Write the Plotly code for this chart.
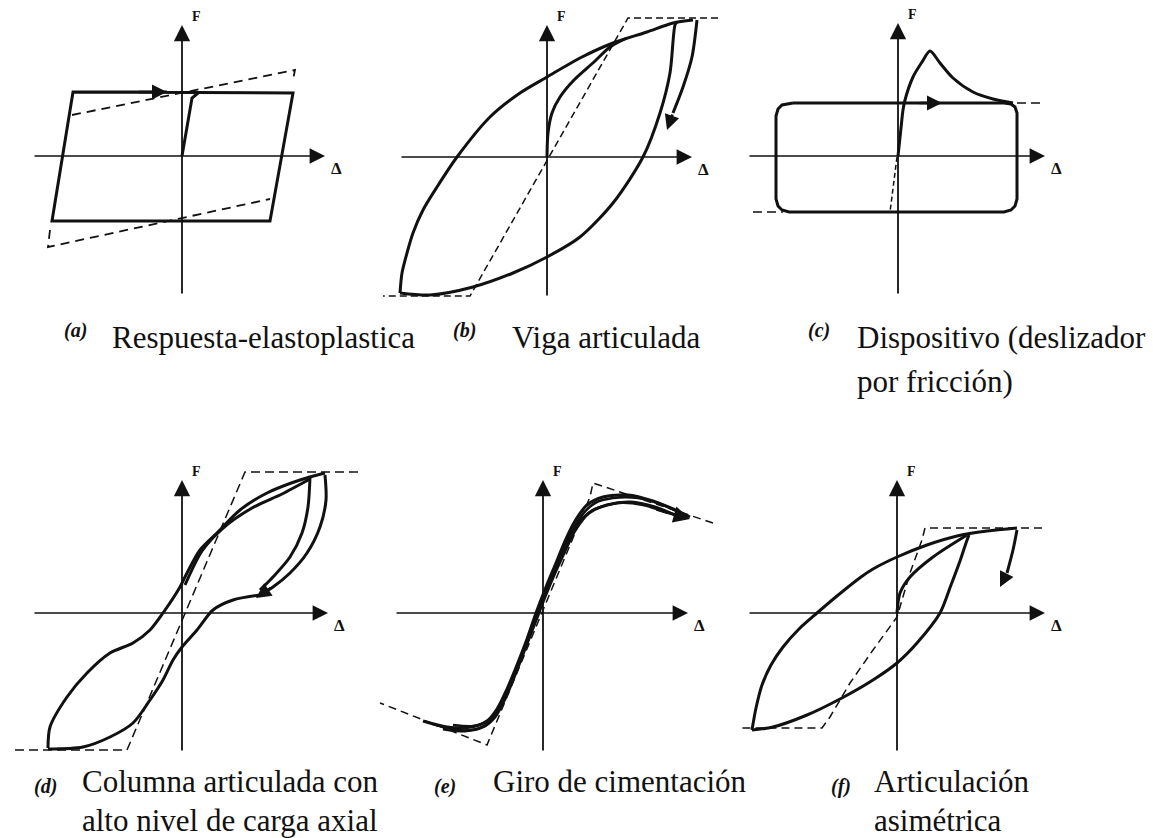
import plotly.graph_objects as go

W, H = 1153, 838

# Axis crossing point of each panel, in page pixels
ORIGINS = {"a": (182, 156), "b": (547, 157), "c": (898, 156),
           "d": (182, 613), "e": (543, 613), "f": (897, 613)}
PANELS = ["a", "b", "c", "d", "e", "f"]

# ---- (a) elastoplastic response: displacement (d) and force (f) ----
a_loop_d = [-109, 111, 88, -130, -109, -15]
a_loop_f = [64, 63, -65, -65, 64, 64]
a_init_d = [0, 10, 16]
a_init_f = [0, 58, 63]
a_env_up_d = [-110, 113, 111]
a_env_up_f = [41, 86, 76]
a_env_lo_d = [-132, -134, 88]
a_env_lo_f = [-74, -91, -43]

# ---- (b) hinged beam ----
b_up_d = [-147, -145, -140, -134, -124, -110, -90, -57, -27, 0, 33, 66, 100, 126, 146]
b_up_f = [-136, -116, -96, -76, -53, -30, 0, 40, 64, 80, 99, 114, 125, 134, 137]
b_lo_d = [-147, -117, -74, -34, 0, 33, 66, 96, 113, 123, 128, 130]
b_lo_f = [-136, -138, -130, -116, -100, -80, -46, 0, 44, 84, 132, 135]
b_init_d = [0, 1, 5, 13, 27, 47, 63, 80]
b_init_f = [0, 24, 44, 60, 77, 95, 110, 119]
b_unl_d = [150, 145, 136, 126, 120]
b_unl_f = [137, 100, 70, 44, 27]
b_env_d = [171, 81, -77, -164]
b_env_f = [139, 139, -139, -139]

# ---- (c) friction slider ----
c_rect_d = [-105, 106, 113, 117, 119, 119, 117, 113, 106, -109, -116, -120, -122, -122, -120, -116, -105]
c_rect_f = [53, 53, 52, 49, 43, -43, -50, -54, -56, -56, -54, -50, -43, 40, 47, 51, 53]
c_peak_d = [0, 3, 5, 7, 15, 24, 32, 42, 55, 75, 95, 115]
c_peak_f = [0, 28, 46, 56, 79, 94, 105, 93, 78, 64, 57, 53]
c_env_r_d = [119, 147]
c_env_r_f = [53, 53]
c_env_l_d = [-145, -115]
c_env_l_f = [-56, -56]
c_elast_d = [-1, -8]
c_elast_f = [-1, -56]

# ---- (d) hinged column, high axial load ----
d_up_d = [-134, -132, -115, -95, -72, -49, -32, -19, -2, 5, 18, 35, 58, 85, 118, 143]
d_up_f = [-135, -114, -84, -60, -40, -30, -17, 0, 26, 40, 63, 80, 103, 120, 133, 140]
d_in_d = [3, 20, 40, 70, 100, 128]
d_in_f = [28, 62, 84, 105, 119, 134]
d_unl1_d = [143, 144, 138, 125, 108, 91, 78]
d_unl1_f = [138, 113, 86, 60, 40, 26, 18]
d_unl2_d = [128, 126, 120, 108, 91, 78]
d_unl2_f = [136, 106, 80, 56, 36, 23]
d_lo_d = [78, 51, 31, 15, 0, -9, -19, -32, -49, -72, -99, -134]
d_lo_f = [18, 13, 3, -17, -34, -47, -67, -87, -110, -124, -134, -136]
d_env_d = [176, 63, -55, -172]
d_env_f = [141, 141, -137, -137]

# ---- (e) foundation rocking ----
e_c1_d = [-120, -96, -72, -56, -46, -36, -26, -16, -7, 3, 13, 22, 32, 44, 60, 85, 110, 130, 147]
e_c1_f = [-108, -114, -114, -108, -96, -76, -52, -26, 0, 26, 50, 72, 92, 108, 116, 118, 112, 104, 96]
e_c2_d = [-100, -78, -60, -48, -38, -28, -18, -8, 2, 12, 22, 33, 46, 64, 88, 112, 132]
e_c2_f = [-116, -118, -114, -104, -86, -62, -36, -10, 16, 40, 62, 84, 100, 108, 111, 106, 98]
e_c3_d = [-90, -70, -55, -44, -34, -24, -14, -4, 6, 16, 26, 37, 52, 75, 100, 125]
e_c3_f = [-112, -113, -108, -96, -76, -50, -24, 2, 28, 52, 74, 92, 104, 110, 108, 100]
e_c4_d = [-110, -86, -66, -52, -42, -32, -22, -12, -2, 8, 18, 28, 39, 52, 70, 95, 120, 140]
e_c4_f = [-111, -117, -116, -108, -92, -70, -45, -18, 8, 34, 58, 80, 98, 110, 115, 115, 108, 99]
e_env_d = [170, 50, 47, -53, -56, -163]
e_env_f = [90, 130, 116, -124, -132, -90]

# ---- (f) asymmetric hinge ----
f_up_d = [-145, -141, -135, -126, -114, -98, -80, -60, -36, -24, 0, 30, 60, 90, 120]
f_up_f = [-117, -95, -72, -52, -34, -16, 0, 17, 36, 44, 56, 68, 77, 82, 85]
f_lo_d = [-145, -124, -90, -57, -24, 0, 20, 43, 54, 63, 69, 72]
f_lo_f = [-117, -114, -102, -86, -67, -50, -30, 0, 28, 52, 70, 78]
f_init_d = [0, 3, 13, 36, 70]
f_init_f = [0, 20, 36, 56, 78]
f_unl_d = [120, 116, 110, 103]
f_unl_f = [83, 63, 40, 26]
f_env_d = [145, 28, 25, 13, 0, -24, -47, -67, -75, -157]
f_env_f = [85, 85, 73, 40, -4, -37, -70, -104, -115, -115]

# Coordinate-axis extents per panel: left, right, bottom, top
AX_LEFT = [-149, -147, -150, -149, -148, -149]
AX_RIGHT = [143, 145, 147, 146, 145, 148]
AX_BOTTOM = [-139, -140, -139, -139, -139, -139]
AX_TOP = [131, 132, 133, 133, 133, 133]

TAGS = ["(a)", "(b)", "(c)", "(d)", "(e)", "(f)"]
CAPTIONS = [["Respuesta-elastoplastica"], ["Viga articulada"],
            ["Dispositivo (deslizador", "por fricción)"],
            ["Columna articulada con", "alto nivel de carga axial"],
            ["Giro de cimentación"], ["Articulación", "asimétrica"]]
TAG_POS = [(62, 330), (451, 330), (806, 330), (32, 786), (432, 786), (829, 786)]
CAP_POS = [(110, 337), (510, 337), (855, 337), (80, 781), (491, 781), (872, 781)]
LINE_GAP = [44, 44, 44, 39, 39, 39]

INK = "#111111"
SERIF = "Liberation Serif"

fig = go.Figure()
ax_id = {p: ("" if i == 0 else str(i + 1)) for i, p in enumerate(PANELS)}


def curve(p, d, f, width=3.0, dash="solid", smooth=True):
    fig.add_trace(go.Scatter(
        x=d, y=f, mode="lines", xaxis="x" + ax_id[p], yaxis="y" + ax_id[p],
        line=dict(color=INK, width=width, dash=dash,
                  shape="spline" if smooth else "linear", smoothing=0.8),
        hoverinfo="skip"))


def arrow(p, d0, f0, d1, f1, width=2.5, size=1.2):
    fig.add_annotation(
        x=d1, y=f1, ax=d0, ay=f0, xref="x" + ax_id[p], yref="y" + ax_id[p],
        axref="x" + ax_id[p], ayref="y" + ax_id[p], text="", showarrow=True,
        arrowhead=2, arrowsize=size, arrowwidth=width, arrowcolor=INK,
        standoff=0, startstandoff=0)


# (a)
curve("a", a_loop_d, a_loop_f, smooth=False)
curve("a", a_init_d, a_init_f, smooth=False)
curve("a", a_env_up_d, a_env_up_f, width=1.8, dash="9px,6px", smooth=False)
curve("a", a_env_lo_d, a_env_lo_f, width=1.8, dash="9px,6px", smooth=False)
arrow("a", -45, 64, -15, 64)

# (b)
curve("b", b_up_d, b_up_f)
curve("b", b_lo_d, b_lo_f)
curve("b", b_init_d, b_init_f)
curve("b", b_unl_d[:-1], b_unl_f[:-1])
arrow("b", b_unl_d[-2], b_unl_f[-2], b_unl_d[-1], b_unl_f[-1])
curve("b", b_env_d, b_env_f, width=1.5, dash="7px,4px", smooth=False)

# (c)
curve("c", c_rect_d, c_rect_f, smooth=False)
curve("c", c_peak_d, c_peak_f)
curve("c", c_env_r_d, c_env_r_f, width=1.5, dash="9px,5px", smooth=False)
curve("c", c_env_l_d, c_env_l_f, width=1.5, dash="9px,5px", smooth=False)
curve("c", c_elast_d, c_elast_f, width=1.5, dash="5px,3px", smooth=False)
arrow("c", 20, 53, 44, 53)

# (d)
curve("d", d_up_d, d_up_f)
curve("d", d_in_d, d_in_f)
curve("d", d_unl1_d, d_unl1_f)
curve("d", d_unl2_d, d_unl2_f)
curve("d", d_lo_d, d_lo_f)
arrow("d", 90, 26, 74, 15)
curve("d", d_env_d, d_env_f, width=1.5, dash="9px,5px", smooth=False)

# (e)
curve("e", e_c1_d, e_c1_f)
curve("e", e_c4_d, e_c4_f, width=2.6)
curve("e", e_c2_d, e_c2_f)
curve("e", e_c3_d, e_c3_f, width=2.6)
curve("e", e_env_d, e_env_f, width=1.5, dash="8px,5px", smooth=False)
arrow("e", 112, 104, 147, 94, width=3, size=1.1)

# (f)
curve("f", f_up_d, f_up_f)
curve("f", f_lo_d, f_lo_f)
curve("f", f_init_d, f_init_f)
curve("f", f_unl_d[:-1], f_unl_f[:-1])
arrow("f", f_unl_d[-2], f_unl_f[-2], f_unl_d[-1], f_unl_f[-1])
curve("f", f_env_d, f_env_f, width=1.5, dash="8px,5px", smooth=False)

# Coordinate axes with arrowheads and their F / Δ labels
for i, p in enumerate(PANELS):
    xr, yr = "x" + ax_id[p], "y" + ax_id[p]
    fig.add_annotation(x=AX_RIGHT[i], y=0, ax=AX_LEFT[i], ay=0, xref=xr, yref=yr,
                       axref=xr, ayref=yr, text="", showarrow=True, arrowhead=2,
                       arrowsize=2.2, arrowwidth=1.4, arrowcolor=INK, standoff=0)
    fig.add_annotation(x=0, y=AX_TOP[i], ax=0, ay=AX_BOTTOM[i], xref=xr, yref=yr,
                       axref=xr, ayref=yr, text="", showarrow=True, arrowhead=2,
                       arrowsize=1.8, arrowwidth=1.8, arrowcolor=INK, standoff=0)
    fig.add_annotation(x=14, y=AX_TOP[i] + 9, xref=xr, yref=yr, text="<b>F</b>",
                       showarrow=False, font=dict(family=SERIF, size=14, color=INK))
    fig.add_annotation(x=AX_RIGHT[i] + 11, y=-12, xref=xr, yref=yr, text="<b>Δ</b>",
                       showarrow=False, font=dict(family=SERIF, size=17, color=INK))

# Panel tags and captions
for i in range(6):
    tx, ty = TAG_POS[i]
    fig.add_annotation(x=tx / W, y=1 - ty / H, xref="paper", yref="paper",
                       xanchor="left", yanchor="middle", showarrow=False,
                       text="<b><i>" + TAGS[i] + "</i></b>",
                       font=dict(family=SERIF, size=20, color=INK))
    cx, cy = CAP_POS[i]
    for k, line in enumerate(CAPTIONS[i]):
        fig.add_annotation(x=cx / W, y=1 - (cy + k * LINE_GAP[i]) / H,
                           xref="paper", yref="paper", xanchor="left",
                           yanchor="middle", showarrow=False, text=line,
                           font=dict(family=SERIF, size=31, color=INK))

layout_axes = {}
for i, p in enumerate(PANELS):
    ox, oy = ORIGINS[p]
    layout_axes["xaxis" + ax_id[p]] = dict(domain=[0, 1], range=[-ox, W - ox], visible=False,
                                           anchor="y" + ax_id[p], fixedrange=True)
    layout_axes["yaxis" + ax_id[p]] = dict(domain=[0, 1], range=[oy - H, oy], visible=False,
                                           anchor="x" + ax_id[p], fixedrange=True)

fig.update_layout(width=W, height=H, margin=dict(l=0, r=0, t=0, b=0),
                  paper_bgcolor="white", plot_bgcolor="rgba(0,0,0,0)",
                  showlegend=False, **layout_axes)

fig.write_html("out.html")
